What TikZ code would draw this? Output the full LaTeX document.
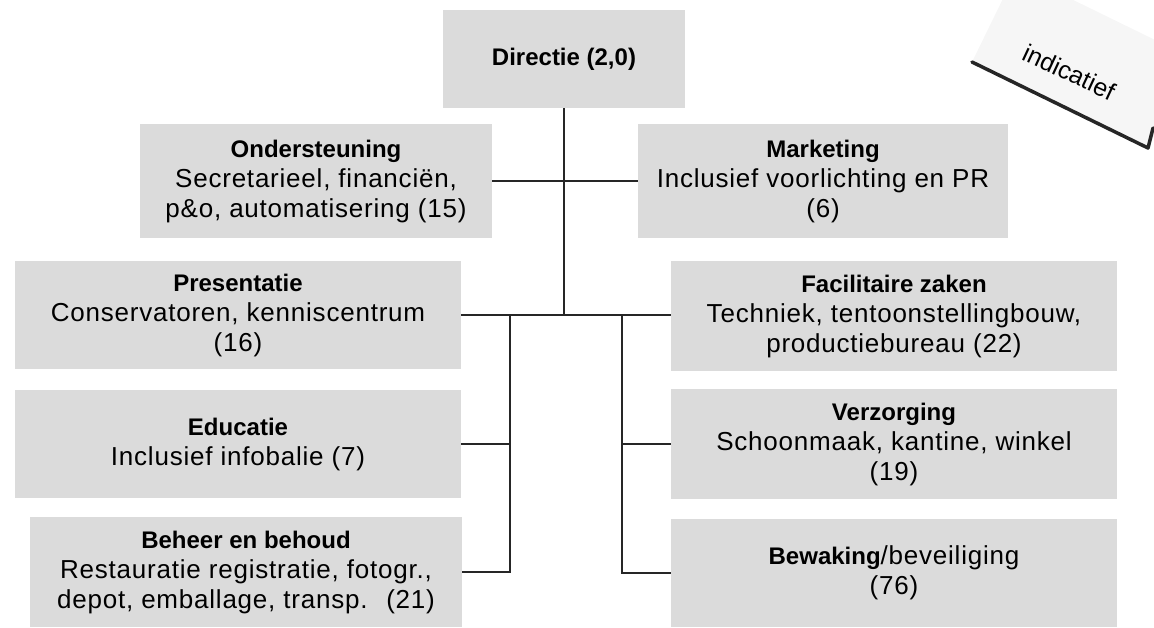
\documentclass[tikz,border=0pt]{standalone}
\usepackage{fontspec}
\setmainfont{Liberation Sans}
\newfontfamily\spaced[LetterSpace=3]{Liberation Sans}
\definecolor{boxgray}{gray}{0.86}
\definecolor{cardgray}{gray}{0.965}
\begin{document}
\begin{tikzpicture}[x=1pt,y=-1pt,
  unit/.style={fill=boxgray, inner sep=0pt, align=center,
    font=\fontsize{26}{30}\selectfont},
  head/.style={},
  link/.style={line width=1.6pt, draw=black!85},
  stampline/.style={line width=3.5pt, draw=black!85, line cap=round, line join=round}]
\useasboundingbox (0,0) rectangle (1154,627);
% stamp card
\coordinate (sa) at (972,62);
\coordinate (sb) at (1148,148);
\coordinate (sc) at (1153,128);
\fill[cardgray] (sa) -- (sb) -- (1192,58) -- (1016,-28) -- cycle;
\draw[stampline] (sa) -- (sb) -- (sc);
\node[rotate=-25, font=\fontsize{25}{28}\selectfont] (ind) at (1069,72) {indicatief};
% units
\newcommand\hd[1]{{\fontsize{24}{30}\selectfont\bfseries #1}}
\node[unit, minimum width=242pt, minimum height=98pt] (dir) at (564,59) {\hd{Directie (2,0)}};
\node[unit, minimum width=352pt, minimum height=114pt] (ond) at (316,181)
  {\hd{Ondersteuning}\\{\spaced Secretarieel, financiën,}\\{\spaced p\&o, automatisering (15)}};
\node[unit, minimum width=370pt, minimum height=114pt] (mkt) at (823,181)
  {\hd{Marketing}\\{\spaced Inclusief voorlichting en PR}\\{\spaced (6)}};
\node[unit, minimum width=446pt, minimum height=108pt] (pres) at (238,315)
  {\hd{Presentatie}\\{\spaced Conservatoren, kenniscentrum}\\{\spaced (16)}};
\node[unit, minimum width=446pt, minimum height=110pt] (fac) at (894,316)
  {\hd{Facilitaire zaken}\\{\spaced Techniek, tentoonstellingbouw,}\\{\spaced productiebureau (22)}};
\node[unit, minimum width=446pt, minimum height=108pt] (edu) at (238,444)
  {\hd{Educatie}\\{\spaced Inclusief infobalie (7)}};
\node[unit, minimum width=446pt, minimum height=110pt] (verz) at (894,444)
  {\hd{Verzorging}\\{\spaced Schoonmaak, kantine, winkel}\\{\spaced (19)}};
\node[unit, minimum width=432pt, minimum height=110pt] (beh) at (246,572)
  {\hd{Beheer en behoud}\\{\spaced Restauratie registratie, fotogr.,}\\{\spaced depot, emballage, transp.~ (21)}};
\node[unit, minimum width=446pt, minimum height=108pt] (bew) at (894,573)
  {\hd{Bewaking}{\spaced /beveiliging}\\{\spaced (76)}};
% connectors
\coordinate (hub) at (dir.south |- pres.east);
\draw[link] (dir.south) -- (hub);
\draw[link] (ond.east) -- (mkt.west);
\draw[link] (pres.east) -- (pres.east -| fac.west);
\coordinate (lj) at (510,315);
\coordinate (rj) at (622,315);
\draw[link] (lj) |- (edu.east);
\draw[link] (lj) |- (beh.east);
\draw[link] (rj) |- (verz.west);
\draw[link] (rj) |- (bew.west);
\end{tikzpicture}
\end{document}
